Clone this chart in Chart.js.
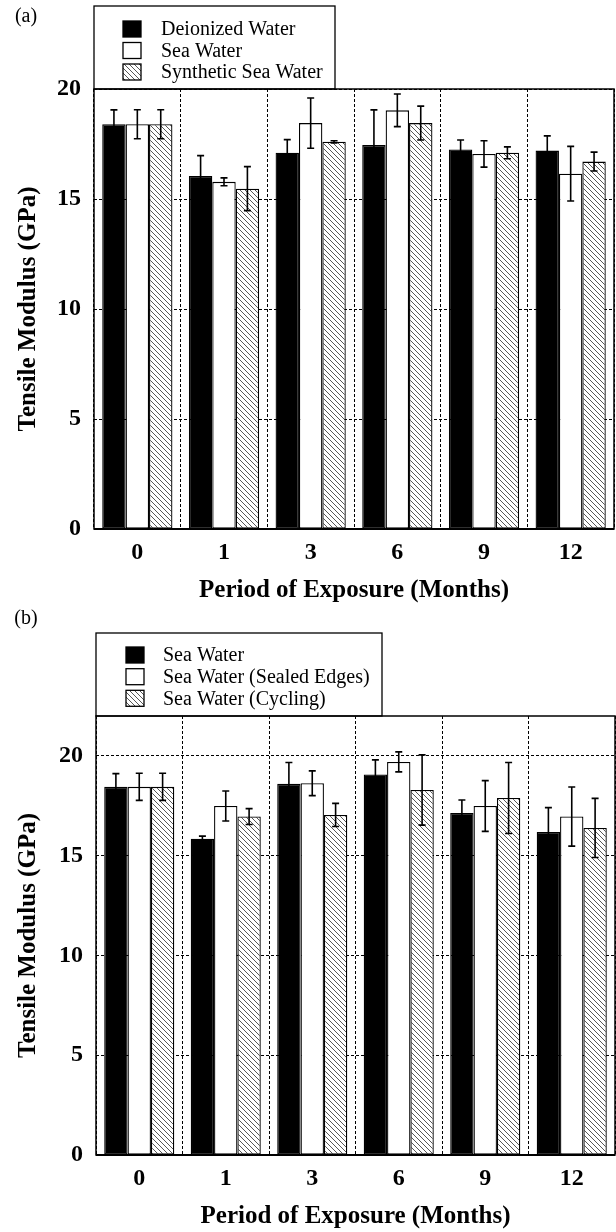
<!DOCTYPE html>
<html><head><meta charset="utf-8">
<script src="https://cdn.jsdelivr.net/npm/chart.js@4"></script>
<style>
html,body{margin:0;padding:0;background:#fff;}
#wa{position:absolute;left:0;top:0;width:616px;height:606px;}
#wb{position:absolute;left:0;top:606px;width:616px;height:626px;}
canvas{display:block;}
.pre{position:absolute;left:-9999px;top:0;font-family:'Liberation Serif';}
</style></head><body>
<span class="pre">Deionized Water</span><span class="pre" style="font-weight:bold">Tensile 0123</span>
<div id="wa"><canvas id="ca" width="616" height="606"></canvas></div>
<div id="wb"><canvas id="cb" width="616" height="626"></canvas></div>
<script>
// ---------- data ----------
const categories = ['0', '1', '3', '6', '9', '12'];
const yTickValues = [0, 5, 10, 15, 20];

const labelsA = ['Deionized Water', 'Sea Water', 'Synthetic Sea Water'];
const deionizedA    = [18.40, 16.05, 17.10, 17.45, 17.25, 17.20];
const deionizedErrA = [0.65, 0.92, 0.60, 1.60, 0.43, 0.67];
const seaA          = [18.40, 15.78, 18.45, 19.03, 17.05, 16.15];
const seaErrA       = [0.66, 0.18, 1.14, 0.74, 0.60, 1.24];
const synthA        = [18.40, 15.47, 17.60, 18.45, 17.10, 16.70];
const synthErrA     = [0.66, 1.00, 0.05, 0.77, 0.27, 0.43];

const labelsB = ['Sea Water', 'Sea Water (Sealed Edges)', 'Sea Water (Cycling)'];
const seaB          = [18.45, 15.85, 18.60, 19.07, 17.14, 16.19];
const seaErrB       = [0.66, 0.13, 1.07, 0.73, 0.65, 1.22];
const sealedB       = [18.45, 17.49, 18.63, 19.70, 17.49, 16.96];
const sealedErrB    = [0.68, 0.75, 0.62, 0.50, 1.27, 1.48];
const cyclingB      = [18.45, 16.96, 17.04, 18.29, 17.89, 16.39];
const cyclingErrB   = [0.68, 0.40, 0.58, 1.76, 1.78, 1.48];

// ---------- styling helpers ----------
const SERIF = "'Liberation Serif', 'Times New Roman', serif";

function hatchPattern() {
  const c = document.createElement('canvas');
  c.width = 5; c.height = 5;
  const x = c.getContext('2d');
  x.fillStyle = '#fff'; x.fillRect(0, 0, 5, 5);
  x.strokeStyle = '#444'; x.lineWidth = 0.9;
  x.beginPath();
  x.moveTo(-1, -1); x.lineTo(6, 6);
  x.moveTo(-1, 4); x.lineTo(1, 6);
  x.moveTo(4, -1); x.lineTo(6, 1);
  x.stroke();
  return x.createPattern(c, 'repeat');
}

const errorBars = {
  id: 'errorBars',
  afterDatasetsDraw(chart) {
    const ctx = chart.ctx, ys = chart.scales.y;
    chart.data.datasets.forEach((ds, di) => {
      const meta = chart.getDatasetMeta(di);
      meta.data.forEach((bar, i) => {
        const v = ds.data[i], e = ds.errors[i];
        const x = bar.x;
        const yt = ys.getPixelForValue(v + e), yb = ys.getPixelForValue(v - e);
        ctx.save();
        ctx.strokeStyle = '#000'; ctx.lineWidth = 1.6;
        ctx.beginPath();
        ctx.moveTo(x, yt); ctx.lineTo(x, yb);
        ctx.moveTo(x - 3.5, yt); ctx.lineTo(x + 3.5, yt);
        ctx.moveTo(x - 3.5, yb); ctx.lineTo(x + 3.5, yb);
        ctx.stroke();
        ctx.restore();
      });
    });
  }
};

const frameLegend = {
  id: 'frameLegend',
  afterDraw(chart, args, opts) {
    const ctx = chart.ctx, a = chart.chartArea;
    ctx.save();
    ctx.strokeStyle = '#000';
    ctx.lineWidth = 1.5;
    ctx.strokeRect(a.left, a.top, a.right - a.left, a.bottom - a.top);
    ctx.lineWidth = 2;
    ctx.beginPath(); ctx.moveTo(a.left, a.bottom); ctx.lineTo(a.right, a.bottom); ctx.stroke();
    // legend box above the plot
    const boxTop = opts.boxTop, boxRight = opts.boxRight;
    ctx.lineWidth = 1.3;
    ctx.strokeRect(a.left, boxTop, boxRight - a.left, a.top - boxTop);
    ctx.font = '20px ' + SERIF;
    ctx.textBaseline = 'middle';
    ctx.textAlign = 'left';
    chart.data.datasets.forEach((ds, i) => {
      const cy = boxTop + opts.rowOffsets[i];
      const sx = a.left + opts.swatchX;
      ctx.fillStyle = ds.backgroundColor;
      ctx.fillRect(sx, cy - 8, 18, 16);
      ctx.lineWidth = 1.3;
      ctx.strokeStyle = '#000';
      ctx.strokeRect(sx, cy - 8, 18, 16);
      ctx.fillStyle = '#000';
      ctx.fillText(ds.label, a.left + opts.textX, cy + 1);
    });
    // panel label
    ctx.font = '20px ' + SERIF;
    ctx.textAlign = 'center';
    ctx.fillStyle = '#000';
    ctx.fillText(opts.panel, opts.panelX, opts.panelY);
    ctx.restore();
  }
};

function makeChart(canvasId, dsLabels, series, errs, yMax, pad, xHeight, yWidth, legendOpts) {
  const fills = ['#000', '#fff', hatchPattern()];
  return new Chart(document.getElementById(canvasId), {
    type: 'bar',
    data: {
      labels: categories,
      datasets: dsLabels.map((lab, i) => ({
        label: lab,
        data: series[i],
        errors: errs[i],
        backgroundColor: fills[i],
        borderColor: '#000',
        borderWidth: 1.3,
        borderSkipped: false,
        categoryPercentage: 0.81,
        barPercentage: 1.0
      }))
    },
    options: {
      responsive: false,
      animation: false,
      devicePixelRatio: 1,
      layout: { padding: pad },
      plugins: { legend: { display: false }, tooltip: { enabled: false }, frameLegend: legendOpts },
      scales: {
        x: {
          grid: { color: '#000', lineWidth: 1, drawTicks: false, offset: true },
          border: { display: false, dash: [3, 2] },
          ticks: { color: '#000', padding: 9, font: { family: SERIF, size: 24, weight: 'bold' } },
          title: { display: true, text: 'Period of Exposure (Months)', color: '#000',
                   font: { family: SERIF, size: 25, weight: 'bold' }, padding: { top: 0, bottom: 0 } },
          afterFit(s) { s.height = xHeight; }
        },
        y: {
          min: 0, max: yMax,
          grid: { color: '#000', lineWidth: 1, drawTicks: false },
          border: { display: false, dash: [3, 2] },
          afterBuildTicks(s) { s.ticks = yTickValues.map(v => ({ value: v })); },
          ticks: { color: '#000', padding: 13, font: { family: SERIF, size: 24, weight: 'bold' } },
          title: { display: true, text: 'Tensile Modulus (GPa)', color: '#000',
                   font: { family: SERIF, size: 25, weight: 'bold' }, padding: { top: 14, bottom: 0 } },
          afterFit(s) { s.width = yWidth; }
        }
      }
    },
    plugins: [errorBars, frameLegend]
  });
}

function drawAll() {
  makeChart('ca', labelsA, [deionizedA, seaA, synthA], [deionizedErrA, seaErrA, synthErrA], 20,
    { top: 89, right: 2, left: 0, bottom: 0 }, 77, 94,
    { boxTop: 6, boxRight: 335, rowOffsets: [23, 44.5, 66], swatchX: 29, textX: 67, panel: '(a)', panelX: 26, panelY: 17 });

  makeChart('cb', labelsB, [seaB, sealedB, cyclingB], [seaErrB, sealedErrB, cyclingErrB], 22,
    { top: 110, right: 1, left: 0, bottom: 0 }, 77, 96,
    { boxTop: 27, boxRight: 382, rowOffsets: [22, 43.7, 65.3], swatchX: 30, textX: 67, panel: '(b)', panelX: 26, panelY: 13 });
}

Promise.all([
  document.fonts.load("20px 'Liberation Serif'"),
  document.fonts.load("bold 24px 'Liberation Serif'")
]).then(drawAll, drawAll);
</script>
</body></html>
